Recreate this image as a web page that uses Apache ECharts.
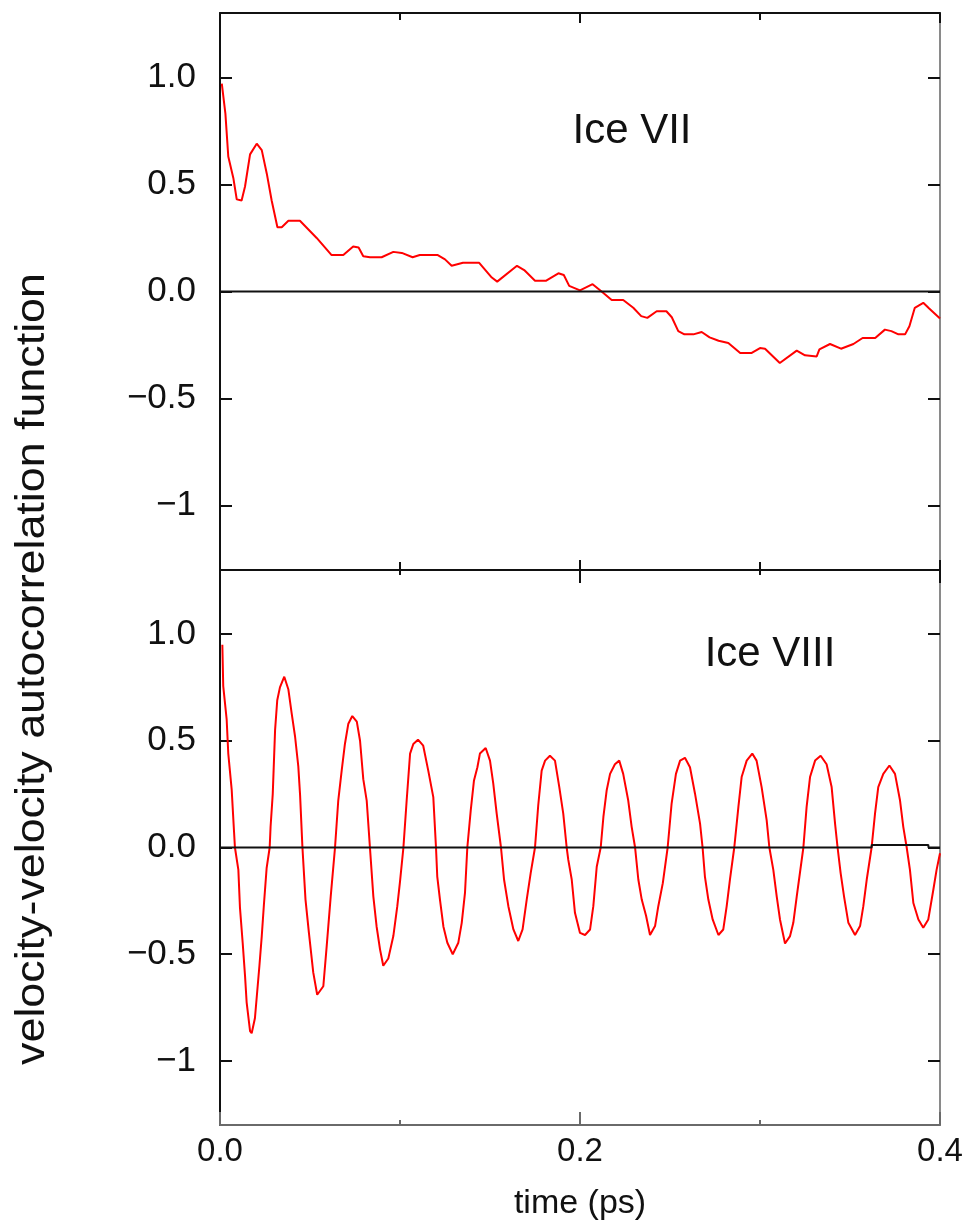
<!DOCTYPE html>
<html>
<head>
<meta charset="utf-8">
<script src="https://cdn.jsdelivr.net/npm/echarts@6/dist/echarts.min.js"></script>
<style>
  html, body { margin: 0; padding: 0; background: #fff; }
  #chart { width: 971px; height: 1223px; }
</style>
</head>
<body>
<div id="chart"></div>
<script>
// Velocity autocorrelation of ice VII (upper panel) and ice VIII (lower panel)
const timeVII = [0.001, 0.003, 0.0046, 0.0074, 0.0093, 0.012, 0.0139, 0.0167, 0.0204, 0.0232, 0.026, 0.0287, 0.0319, 0.0343, 0.038, 0.0444, 0.0537, 0.062, 0.0685, 0.074, 0.077, 0.0796, 0.0833, 0.0898, 0.0963, 0.101, 0.107, 0.111, 0.121, 0.125, 0.1287, 0.135, 0.144, 0.151, 0.154, 0.165, 0.169, 0.175, 0.181, 0.188, 0.191, 0.194, 0.2, 0.207, 0.212, 0.2176, 0.224, 0.2296, 0.234, 0.2374, 0.2426, 0.248, 0.251, 0.2546, 0.258, 0.263, 0.2676, 0.272, 0.277, 0.2824, 0.289, 0.2954, 0.3, 0.3028, 0.311, 0.3204, 0.325, 0.3315, 0.333, 0.3389, 0.345, 0.3519, 0.357, 0.364, 0.3694, 0.373, 0.3769, 0.3806, 0.383, 0.386, 0.3907, 0.394, 0.4];
const vacfVII = [0.97, 0.83, 0.63, 0.53, 0.43, 0.425, 0.49, 0.64, 0.69, 0.66, 0.55, 0.425, 0.30, 0.30, 0.33, 0.33, 0.25, 0.17, 0.17, 0.21, 0.205, 0.165, 0.16, 0.16, 0.185, 0.18, 0.16, 0.17, 0.17, 0.15, 0.12, 0.134, 0.134, 0.065, 0.046, 0.12, 0.10, 0.05, 0.05, 0.085, 0.077, 0.026, 0.005, 0.034, 0.0, -0.04, -0.04, -0.076, -0.115, -0.123, -0.092, -0.092, -0.12, -0.185, -0.20, -0.20, -0.189, -0.214, -0.23, -0.24, -0.287, -0.287, -0.264, -0.267, -0.334, -0.276, -0.298, -0.303, -0.27, -0.245, -0.267, -0.245, -0.217, -0.217, -0.178, -0.185, -0.20, -0.20, -0.162, -0.076, -0.053, -0.079, -0.126];

const timeVIII = [0.0013, 0.0018, 0.0037, 0.0046, 0.0065, 0.0078, 0.0083, 0.0102, 0.0111, 0.0126, 0.0139, 0.0148, 0.0167, 0.0176, 0.0194, 0.0219, 0.0232, 0.0244, 0.0259, 0.0276, 0.0281, 0.0293, 0.0306, 0.0318, 0.0333, 0.0357, 0.038, 0.0398, 0.0417, 0.0435, 0.0445, 0.0458, 0.0475, 0.0494, 0.0518, 0.054, 0.0574, 0.0593, 0.0615, 0.0639, 0.0657, 0.0676, 0.0694, 0.0713, 0.0735, 0.076, 0.0778, 0.0796, 0.0815, 0.0833, 0.0852, 0.087, 0.0889, 0.0907, 0.0935, 0.0963, 0.0985, 0.1, 0.1019, 0.1037, 0.1056, 0.1074, 0.11, 0.1129, 0.1157, 0.1185, 0.12, 0.1207, 0.1222, 0.1241, 0.1263, 0.1293, 0.1324, 0.1343, 0.1361, 0.1374, 0.1393, 0.1411, 0.143, 0.1444, 0.1476, 0.15, 0.1518, 0.1537, 0.1561, 0.1578, 0.1602, 0.163, 0.1657, 0.1681, 0.1704, 0.1726, 0.175, 0.1768, 0.1787, 0.1806, 0.1833, 0.1861, 0.1885, 0.1907, 0.1926, 0.1935, 0.1954, 0.1972, 0.2, 0.2028, 0.2056, 0.2074, 0.2093, 0.2115, 0.213, 0.2148, 0.2167, 0.2194, 0.2218, 0.224, 0.2268, 0.2287, 0.2306, 0.2324, 0.2343, 0.2367, 0.2389, 0.2417, 0.2435, 0.246, 0.2487, 0.2509, 0.2533, 0.2556, 0.2583, 0.2611, 0.2639, 0.2667, 0.2681, 0.2694, 0.2713, 0.2737, 0.2769, 0.2796, 0.2815, 0.2833, 0.2857, 0.288, 0.2898, 0.2926, 0.2957, 0.2981, 0.3009, 0.3037, 0.3052, 0.3074, 0.3093, 0.3111, 0.3139, 0.3167, 0.3185, 0.3204, 0.3241, 0.3259, 0.3278, 0.3306, 0.3337, 0.337, 0.3398, 0.3417, 0.3431, 0.3448, 0.3467, 0.3491, 0.3528, 0.3556, 0.3574, 0.3593, 0.362, 0.3639, 0.3657, 0.3685, 0.3719, 0.375, 0.3778, 0.3796, 0.3815, 0.3833, 0.3852, 0.388, 0.3907, 0.3935, 0.3963, 0.3981, 0.4];
const vacfVIII = [0.95, 0.756, 0.60, 0.44, 0.27, 0.074, 0.0, -0.105, -0.283, -0.446, -0.60, -0.725, -0.86, -0.87, -0.80, -0.554, -0.415, -0.267, -0.097, 0.0, 0.097, 0.25, 0.55, 0.69, 0.75, 0.80, 0.74, 0.63, 0.52, 0.38, 0.244, 0.0, -0.244, -0.40, -0.585, -0.69, -0.65, -0.46, -0.23, 0.0, 0.22, 0.36, 0.485, 0.58, 0.616, 0.59, 0.50, 0.32, 0.22, 0.0, -0.23, -0.37, -0.477, -0.554, -0.52, -0.415, -0.275, -0.16, 0.0, 0.22, 0.44, 0.485, 0.505, 0.477, 0.36, 0.236, 0.0, -0.136, -0.244, -0.37, -0.446, -0.50, -0.446, -0.353, -0.213, 0.0, 0.174, 0.314, 0.376, 0.44, 0.466, 0.407, 0.30, 0.16, 0.0, -0.15, -0.275, -0.384, -0.438, -0.384, -0.244, -0.12, 0.0, 0.198, 0.36, 0.407, 0.43, 0.407, 0.283, 0.159, 0.0, -0.058, -0.15, -0.306, -0.40, -0.41, -0.384, -0.275, -0.09, 0.0, 0.143, 0.267, 0.345, 0.39, 0.407, 0.345, 0.22, 0.097, 0.0, -0.15, -0.244, -0.32, -0.41, -0.368, -0.275, -0.167, 0.0, 0.206, 0.345, 0.407, 0.42, 0.376, 0.252, 0.112, 0.0, -0.136, -0.244, -0.337, -0.41, -0.384, -0.275, -0.15, 0.0, 0.19, 0.33, 0.407, 0.44, 0.407, 0.283, 0.128, 0.0, -0.105, -0.23, -0.337, -0.45, -0.415, -0.353, -0.23, 0.0, 0.19, 0.33, 0.407, 0.43, 0.39, 0.283, 0.112, 0.0, -0.12, -0.23, -0.353, -0.41, -0.368, -0.275, -0.15, 0.0, 0.159, 0.283, 0.345, 0.384, 0.345, 0.22, 0.097, 0.0, -0.105, -0.26, -0.337, -0.376, -0.337, -0.198, -0.105, -0.027];

// Black reference traces
const baseTimeVII = [0, 0.4];
const baseValVII = [0, 0];
const baseTimeVIII = [0, 0.362, 0.3621, 0.3935, 0.3936, 0.4];
const baseValVIII = [0, 0, 0.012, 0.012, 0, 0];

// Axis ticks and labels
const yTicks = [-1, -0.5, 0, 0.5, 1];
const yTickLabels = ['\u22121', '\u22120.5', '0.0', '0.5', '1.0'];
const xTickLabels = ['0.0', '0.2', '0.4'];
const panelNames = ['Ice VII', 'Ice VIII'];
const xTitle = 'time (ps)';
const yTitle = 'velocity-velocity autocorrelation function';

const zip = (xs, ys) => xs.map((x, i) => [x, ys[i]]);
const FONT = '"Liberation Sans", Arial, Helvetica, sans-serif';
const BLACK = '#111';
const GREY = '#8a8a8a';

function xAxis(grid, position, majorLen, minorLen, showLabels, color) {
  return {
    type: 'value', gridIndex: grid, position: position,
    min: 0, max: 0.4, interval: 0.2,
    axisLine: { show: true, onZero: false, lineStyle: { color: color, width: 2 } },
    axisTick: { show: true, inside: true, length: majorLen, lineStyle: { color: color, width: 2 } },
    minorTick: { show: true, splitNumber: 2, length: minorLen, lineStyle: { color: color, width: 2 } },
    splitLine: { show: false },
    minorSplitLine: { show: false },
    axisLabel: {
      show: showLabels, margin: 10, fontSize: 33, fontFamily: FONT, color: BLACK,
      showMinLabel: true, showMaxLabel: true,
      formatter: v => xTickLabels[Math.round(v / 0.2)]
    },
    name: showLabels ? xTitle : '',
    nameLocation: 'middle', nameGap: 62,
    nameTextStyle: { fontSize: 34, fontFamily: FONT, color: BLACK }
  };
}

function yAxis(grid, position, color) {
  const left = position === 'left';
  return {
    type: 'value', gridIndex: grid, position: position,
    min: -1.3, max: 1.3,
    axisLine: { show: true, onZero: false, lineStyle: { color: color, width: 2 } },
    axisTick: { show: true, inside: true, length: 12, customValues: yTicks, lineStyle: { color: BLACK, width: 2 } },
    splitLine: { show: false },
    axisLabel: {
      show: left, margin: 24, fontSize: 35, fontFamily: FONT, color: BLACK,
      customValues: yTicks,
      formatter: v => {
        const i = yTicks.findIndex(t => Math.abs(t - v) < 1e-9);
        return i >= 0 ? yTickLabels[i] : '';
      }
    }
  };
}

const chart = echarts.init(document.getElementById('chart'), null, { renderer: 'canvas' });

chart.setOption({
  backgroundColor: '#fff',
  animation: false,
  grid: [
    { left: 220, top: 13, width: 720, height: 557, containLabel: false, outerBoundsMode: 'none' },
    { left: 220, top: 570, width: 720, height: 555, containLabel: false, outerBoundsMode: 'none' }
  ],
  xAxis: [
    xAxis(0, 'bottom', 10, 8, false, BLACK),
    xAxis(0, 'top', 10, 7, false, BLACK),
    xAxis(1, 'top', 13, 5, false, BLACK),
    xAxis(1, 'bottom', 13, 5, true, '#6a6a6a')
  ],
  yAxis: [
    yAxis(0, 'left', BLACK),
    yAxis(0, 'right', GREY),
    yAxis(1, 'left', BLACK),
    yAxis(1, 'right', GREY)
  ],
  series: [
    {
      type: 'line', xAxisIndex: 0, yAxisIndex: 0, data: zip(timeVII, vacfVII),
      showSymbol: false, lineStyle: { color: '#ff0000', width: 2 }, z: 2
    },
    {
      type: 'line', xAxisIndex: 0, yAxisIndex: 0, data: zip(baseTimeVII, baseValVII),
      showSymbol: false, lineStyle: { color: BLACK, width: 2 }, z: 3
    },
    {
      type: 'line', xAxisIndex: 3, yAxisIndex: 2, data: zip(timeVIII, vacfVIII),
      showSymbol: false, lineStyle: { color: '#ff0000', width: 2 }, z: 2
    },
    {
      type: 'line', xAxisIndex: 3, yAxisIndex: 2, data: zip(baseTimeVIII, baseValVIII),
      showSymbol: false, lineStyle: { color: BLACK, width: 2 }, z: 3
    }
  ],
  graphic: [
    {
      type: 'text', x: 33, y: 669, rotation: Math.PI / 2, scaleX: 1.12,
      style: { text: yTitle, font: '40px ' + FONT, fill: BLACK, align: 'center', verticalAlign: 'middle', textAlign: 'center', textVerticalAlign: 'middle' }
    },
    {
      type: 'text', x: 632, y: 131,
      style: { text: panelNames[0], font: '42px ' + FONT, fill: BLACK, align: 'center', verticalAlign: 'middle', textAlign: 'center', textVerticalAlign: 'middle' }
    },
    {
      type: 'text', x: 770, y: 654,
      style: { text: panelNames[1], font: '42px ' + FONT, fill: BLACK, align: 'center', verticalAlign: 'middle', textAlign: 'center', textVerticalAlign: 'middle' }
    }
  ]
});
</script>
</body>
</html>
